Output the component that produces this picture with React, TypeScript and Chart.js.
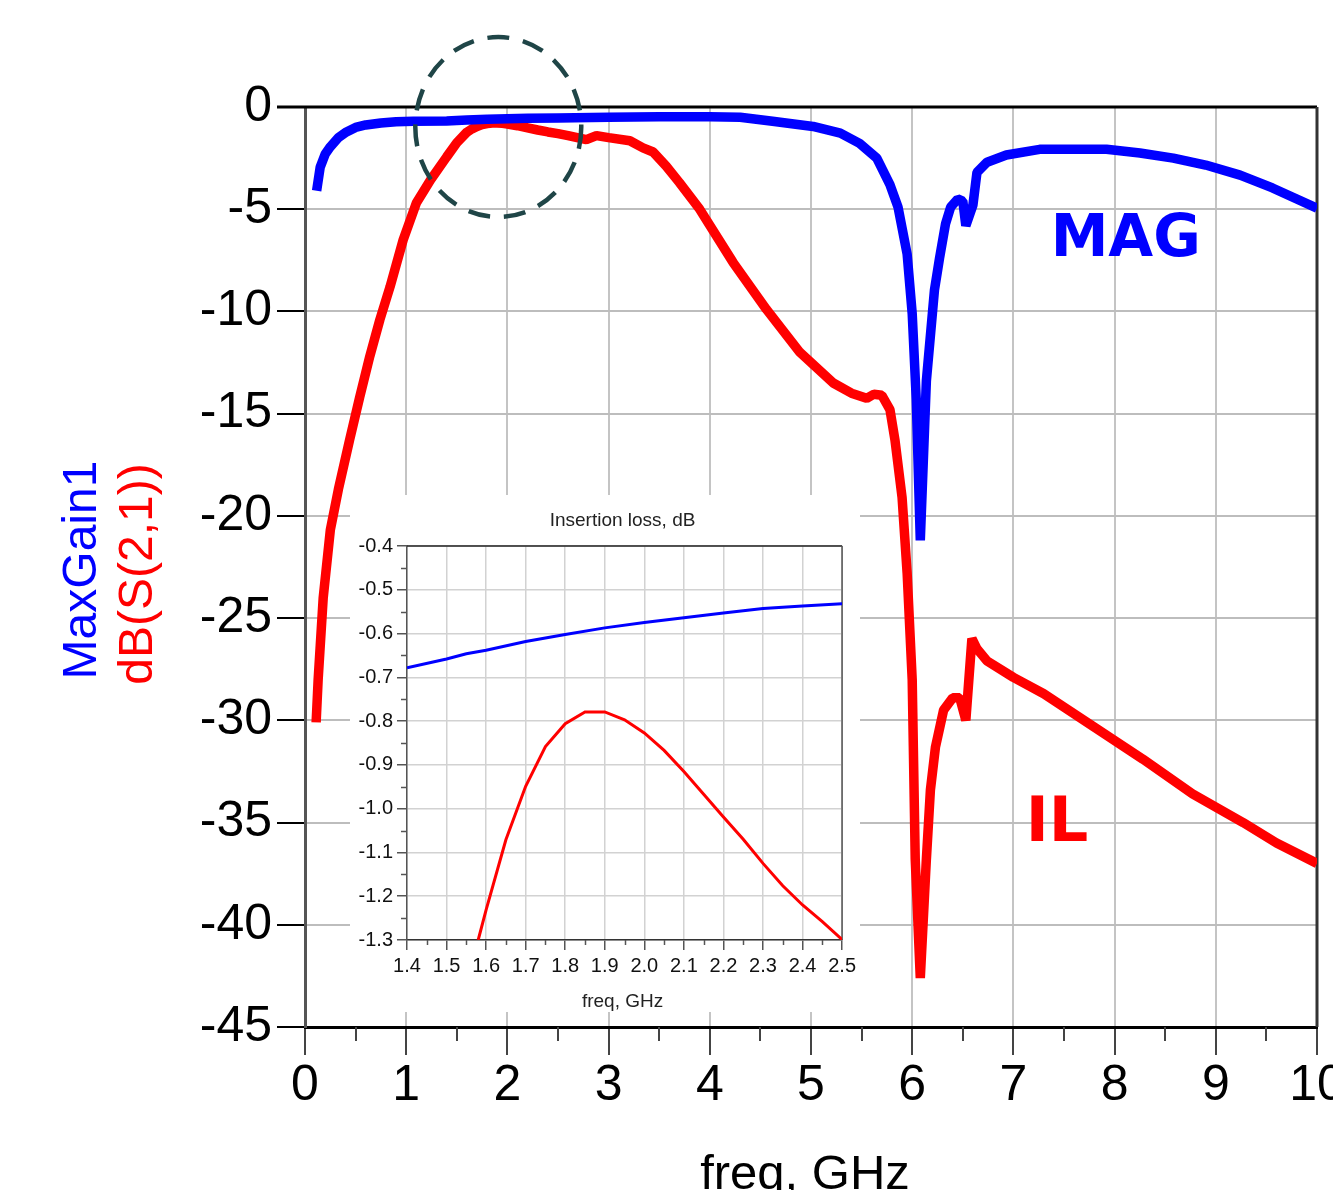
import React, { useEffect, useRef } from 'react';
import { Chart, registerables } from 'chart.js';

Chart.register(...registerables);

const FONT = '"Liberation Sans", Arial, Helvetica, sans-serif';

// ---------- Main chart data (freq in GHz, values in dB) ----------
const magFreq = [0.115, 0.15, 0.2, 0.25, 0.33, 0.41, 0.5, 0.6, 0.75, 0.9, 1.07, 1.4, 1.6, 1.8, 2.0, 2.2, 2.5, 3.0, 3.5, 4.0, 4.3, 4.62, 5.02, 5.29, 5.48, 5.65, 5.78, 5.86, 5.95, 6.0, 6.04, 6.08, 6.14, 6.22, 6.27, 6.33, 6.38, 6.45, 6.5, 6.53, 6.6, 6.64, 6.74, 6.93, 7.26, 7.92, 8.25, 8.58, 8.9, 9.24, 9.56, 10.0];
const magDb = [-4.1, -2.95, -2.3, -1.95, -1.5, -1.22, -1.0, -0.88, -0.78, -0.72, -0.7, -0.68, -0.64, -0.6, -0.575, -0.553, -0.532, -0.5, -0.48, -0.48, -0.5, -0.7, -0.95, -1.28, -1.78, -2.5, -3.8, -4.9, -7.2, -10.1, -14.3, -21.2, -13.4, -8.95, -7.4, -5.7, -4.9, -4.5, -4.6, -5.8, -4.8, -3.2, -2.7, -2.35, -2.07, -2.07, -2.25, -2.5, -2.84, -3.33, -3.96, -4.95];

const ilFreq = [0.11, 0.13, 0.18, 0.25, 0.33, 0.44, 0.54, 0.64, 0.74, 0.84, 0.97, 1.1, 1.24, 1.4, 1.5, 1.6, 1.65, 1.7, 1.75, 1.8, 1.85, 1.9, 1.95, 2.0, 2.1, 2.2, 2.3, 2.4, 2.5, 2.6, 2.78, 2.88, 3.0, 3.21, 3.34, 3.44, 3.57, 3.7, 3.9, 4.23, 4.56, 4.89, 5.22, 5.4, 5.55, 5.62, 5.7, 5.78, 5.83, 5.9, 5.95, 6.0, 6.03, 6.08, 6.14, 6.18, 6.23, 6.31, 6.4, 6.47, 6.53, 6.59, 6.64, 6.74, 7.0, 7.3, 7.79, 8.28, 8.77, 9.27, 9.6, 10.0];
const ilDb = [-30.1, -28, -24, -20.7, -18.7, -16.3, -14.2, -12.2, -10.4, -8.8, -6.5, -4.7, -3.57, -2.44, -1.75, -1.23, -1.07, -0.95, -0.86, -0.81, -0.78, -0.78, -0.8, -0.83, -0.915, -1.02, -1.125, -1.22, -1.3, -1.4, -1.6, -1.4, -1.5, -1.65, -2.0, -2.2, -2.9, -3.7, -5.0, -7.6, -9.9, -12.0, -13.5, -14.0, -14.25, -14.05, -14.1, -14.8, -16.3, -19.1, -22.8, -28, -36.8, -42.6, -36.8, -33.4, -31.3, -29.5, -28.9, -28.9, -30.0, -26.0, -26.5, -27.1, -27.9, -28.7, -30.3, -31.9, -33.6, -35.0, -36.0, -37.0];

const mainXTicks = [0, 1, 2, 3, 4, 5, 6, 7, 8, 9, 10];
const mainXMinor = [0.5, 1.5, 2.5, 3.5, 4.5, 5.5, 6.5, 7.5, 8.5, 9.5];
const mainYTicks = [0, -5, -10, -15, -20, -25, -30, -35, -40, -45];

// ---------- Inset data ----------
const insetMagFreq = [1.4, 1.5, 1.55, 1.6, 1.7, 1.8, 1.9, 2.0, 2.1, 2.2, 2.3, 2.4, 2.5];
const insetMagDb = [-0.678, -0.658, -0.646, -0.638, -0.618, -0.602, -0.587, -0.575, -0.564, -0.553, -0.543, -0.537, -0.532];
const insetIlFreq = [1.58, 1.6, 1.65, 1.7, 1.75, 1.8, 1.85, 1.9, 1.95, 2.0, 2.05, 2.1, 2.15, 2.2, 2.25, 2.3, 2.35, 2.4, 2.45, 2.5];
const insetIlDb = [-1.3, -1.231, -1.071, -0.949, -0.858, -0.806, -0.779, -0.779, -0.797, -0.827, -0.867, -0.915, -0.967, -1.019, -1.07, -1.125, -1.176, -1.22, -1.258, -1.299];

const insetXTicks = [1.4, 1.5, 1.6, 1.7, 1.8, 1.9, 2.0, 2.1, 2.2, 2.3, 2.4, 2.5];
const insetXMinor = [1.45, 1.55, 1.65, 1.75, 1.85, 1.95, 2.05, 2.15, 2.25, 2.35, 2.45];
const insetYTicks = [-0.4, -0.5, -0.6, -0.7, -0.8, -0.9, -1.0, -1.1, -1.2, -1.3];
const insetYMinor = [-0.45, -0.55, -0.65, -0.75, -0.85, -0.95, -1.05, -1.15, -1.25];

// annotations (data coordinates)
const magLabel = { text: 'MAG', x: 8.11, y: -6.55 };
const ilLabel = { text: 'IL', x: 7.43, y: -35.1 };
const zoomEllipse = { cx: 1.91, cy: -0.98, rx: 0.82, ry: 4.4 };

const toPts = (xs: number[], ys: number[]) => xs.map((x, i) => ({ x, y: ys[i] }));

const mainDecor = {
  id: 'mainDecor',
  beforeDatasetsDraw(chart: any) {
    const { ctx, chartArea: a, scales } = chart;
    const x = scales.x;
    ctx.save();
    ctx.strokeStyle = '#444';
    ctx.lineWidth = 2;
    for (const f of mainXMinor) {
      const px = Math.round(x.getPixelForValue(f));
      ctx.beginPath();
      ctx.moveTo(px, a.bottom);
      ctx.lineTo(px, a.bottom + 14);
      ctx.stroke();
    }
    ctx.strokeStyle = '#000';
    ctx.lineWidth = 3;
    ctx.beginPath();
    ctx.moveTo(a.left - 28, a.top);
    ctx.lineTo(a.right, a.top);
    ctx.stroke();
    ctx.strokeStyle = '#333';
    ctx.beginPath();
    ctx.moveTo(a.right, a.top);
    ctx.lineTo(a.right, a.bottom);
    ctx.stroke();
    ctx.restore();
  },
  afterDatasetsDraw(chart: any) {
    const { ctx, scales } = chart;
    const x = scales.x;
    const y = scales.y;
    ctx.save();
    // dashed ellipse
    const cx = x.getPixelForValue(zoomEllipse.cx);
    const cy = y.getPixelForValue(zoomEllipse.cy);
    const rx = x.getPixelForValue(zoomEllipse.cx + zoomEllipse.rx) - cx;
    const ry = y.getPixelForValue(zoomEllipse.cy - zoomEllipse.ry) - cy;
    ctx.strokeStyle = '#1f4547';
    ctx.lineWidth = 4.5;
    ctx.setLineDash([22, 14]);
    ctx.beginPath();
    ctx.ellipse(cx, cy, rx, ry, 0, 0, Math.PI * 2);
    ctx.stroke();
    ctx.setLineDash([]);
    // labels
    ctx.textAlign = 'center';
    ctx.textBaseline = 'middle';
    ctx.font = 'bold 58px "DejaVu Sans", Verdana, sans-serif';
    ctx.fillStyle = '#0000ff';
    ctx.fillText(magLabel.text, x.getPixelForValue(magLabel.x), y.getPixelForValue(magLabel.y));
    ctx.font = 'bold 62px "DejaVu Sans", Verdana, sans-serif';
    ctx.fillStyle = '#ff0000';
    ctx.fillText(ilLabel.text, x.getPixelForValue(ilLabel.x), y.getPixelForValue(ilLabel.y));
    ctx.restore();
  },
  afterDraw(chart: any) {
    const { ctx, chartArea: a } = chart;
    ctx.save();
    // x title
    ctx.font = `49px ${FONT}`;
    ctx.fillStyle = '#000';
    ctx.textAlign = 'center';
    ctx.textBaseline = 'alphabetic';
    ctx.fillText('freq, GHz', (a.left + a.right) / 2 - 6, 1189);
    // y title (two colours)
    const midY = (a.top + a.bottom) / 2 + 3;
    ctx.font = `48px ${FONT}`;
    ctx.textBaseline = 'middle';
    ctx.save();
    ctx.translate(a.left - 222, midY);
    ctx.rotate(-Math.PI / 2);
    ctx.fillStyle = '#0000ff';
    ctx.fillText('MaxGain1', 0, 0);
    ctx.restore();
    ctx.save();
    ctx.translate(a.left - 166, midY + 4);
    ctx.rotate(-Math.PI / 2);
    ctx.fillStyle = '#ff0000';
    ctx.fillText('dB(S(2,1))', 0, 0);
    ctx.restore();
    ctx.restore();
  },
};

const insetDecor = {
  id: 'insetDecor',
  beforeDraw(chart: any) {
    const { ctx, width, height } = chart;
    ctx.save();
    ctx.fillStyle = '#ffffff';
    ctx.fillRect(0, 0, width, height);
    ctx.restore();
  },
  beforeDatasetsDraw(chart: any) {
    const { ctx, chartArea: a, scales } = chart;
    ctx.save();
    ctx.strokeStyle = '#555';
    ctx.lineWidth = 1.5;
    for (const f of insetXMinor) {
      const px = Math.round(scales.x.getPixelForValue(f)) + 0.5;
      ctx.beginPath();
      ctx.moveTo(px, a.bottom);
      ctx.lineTo(px, a.bottom + 5);
      ctx.stroke();
    }
    for (const v of insetYMinor) {
      const py = Math.round(scales.y.getPixelForValue(v)) + 0.5;
      ctx.beginPath();
      ctx.moveTo(a.left - 6, py);
      ctx.lineTo(a.left, py);
      ctx.stroke();
    }
    ctx.strokeStyle = '#222';
    ctx.lineWidth = 1.5;
    ctx.beginPath();
    ctx.moveTo(a.left, a.top);
    ctx.lineTo(a.right, a.top);
    ctx.stroke();
    ctx.strokeStyle = '#555';
    ctx.beginPath();
    ctx.moveTo(a.right, a.top);
    ctx.lineTo(a.right, a.bottom);
    ctx.stroke();
    ctx.restore();
  },
  afterDraw(chart: any) {
    const { ctx, chartArea: a } = chart;
    ctx.save();
    ctx.font = `19px ${FONT}`;
    ctx.fillStyle = '#222';
    ctx.textAlign = 'center';
    ctx.textBaseline = 'middle';
    const cx = (a.left + a.right) / 2 - 2;
    ctx.fillText('Insertion loss, dB', cx, 26);
    ctx.fillText('freq, GHz', cx, 507);
    ctx.restore();
  },
};

export default function App() {
  const mainRef = useRef<HTMLCanvasElement | null>(null);
  const insetRef = useRef<HTMLCanvasElement | null>(null);

  useEffect(() => {
    if (!mainRef.current || !insetRef.current) return;

    const main = new Chart(mainRef.current, {
      type: 'line',
      data: {
        datasets: [
          {
            label: 'MaxGain1',
            data: toPts(magFreq, magDb),
            borderColor: '#0000ff',
            borderWidth: 9.5,
            pointRadius: 0,
            tension: 0,
            borderJoinStyle: 'bevel',
            borderCapStyle: 'butt',
          },
          {
            label: 'dB(S(2,1))',
            data: toPts(ilFreq, ilDb),
            borderColor: '#ff0000',
            borderWidth: 9.5,
            pointRadius: 0,
            tension: 0,
            borderJoinStyle: 'bevel',
            borderCapStyle: 'butt',
          },
        ],
      },
      options: {
        responsive: false,
        animation: false,
        events: [],
        layout: { padding: { top: 107, right: 83, left: 0, bottom: 0 } },
        plugins: { legend: { display: false }, tooltip: { enabled: false }, title: { display: false } },
        scales: {
          x: {
            type: 'linear',
            min: 0,
            max: 10,
            afterBuildTicks: (axis: any) => {
              axis.ticks = mainXTicks.map((v) => ({ value: v }));
            },
            afterFit: (s: any) => {
              s.height = 163;
            },
            ticks: {
              autoSkip: false,
              maxRotation: 0,
              padding: 1,
              color: '#000',
              font: { family: FONT, size: 50 },
              callback: (v: any) => String(v),
            },
            grid: { color: '#c4c4c4', lineWidth: 2, tickLength: 28, tickColor: '#444', tickWidth: 2 },
            border: { color: '#000', width: 3 },
          },
          y: {
            type: 'linear',
            min: -45,
            max: 0,
            afterBuildTicks: (axis: any) => {
              axis.ticks = mainYTicks.map((v) => ({ value: v }));
            },
            afterFit: (s: any) => {
              s.width = 305;
            },
            ticks: {
              autoSkip: false,
              padding: 5,
              color: '#000',
              font: { family: FONT, size: 50 },
              callback: (v: any) => String(v),
            },
            grid: { color: '#bdbdbd', lineWidth: 2, tickLength: 28, tickColor: '#000', tickWidth: 2 },
            border: { color: '#555', width: 3 },
          },
        },
      },
      plugins: [mainDecor],
    } as any);

    const inset = new Chart(insetRef.current, {
      type: 'line',
      data: {
        datasets: [
          {
            label: 'MaxGain1',
            data: toPts(insetMagFreq, insetMagDb),
            borderColor: '#0000ff',
            borderWidth: 3,
            pointRadius: 0,
            tension: 0,
          },
          {
            label: 'dB(S(2,1))',
            data: toPts(insetIlFreq, insetIlDb),
            borderColor: '#ff0000',
            borderWidth: 3,
            pointRadius: 0,
            tension: 0,
          },
        ],
      },
      options: {
        responsive: false,
        animation: false,
        events: [],
        layout: { padding: { top: 51, right: 17, left: 0, bottom: 0 } },
        plugins: { legend: { display: false }, tooltip: { enabled: false }, title: { display: false } },
        scales: {
          x: {
            type: 'linear',
            min: 1.4,
            max: 2.5,
            afterBuildTicks: (axis: any) => {
              axis.ticks = insetXTicks.map((v) => ({ value: v }));
            },
            afterFit: (s: any) => {
              s.height = 72;
            },
            ticks: {
              autoSkip: false,
              maxRotation: 0,
              padding: 4,
              color: '#111',
              font: { family: FONT, size: 20 },
              callback: (v: any) => Number(v).toFixed(1),
            },
            grid: { color: '#d2d2d2', lineWidth: 1.5, tickLength: 10, tickColor: '#555', tickWidth: 1.5 },
            border: { color: '#333', width: 1.5 },
          },
          y: {
            type: 'linear',
            min: -1.3,
            max: -0.4,
            afterBuildTicks: (axis: any) => {
              axis.ticks = insetYTicks.map((v) => ({ value: v }));
            },
            afterFit: (s: any) => {
              s.width = 57;
            },
            ticks: {
              autoSkip: false,
              padding: 4,
              color: '#111',
              font: { family: FONT, size: 20 },
              callback: (v: any) => Number(v).toFixed(1),
            },
            grid: { color: '#d2d2d2', lineWidth: 1.5, tickLength: 10, tickColor: '#555', tickWidth: 1.5 },
            border: { color: '#555', width: 1.5 },
          },
        },
      },
      plugins: [insetDecor],
    } as any);

    return () => {
      main.destroy();
      inset.destroy();
    };
  }, []);

  return (
    <div
      style={{
        position: 'fixed',
        left: 0,
        top: 0,
        width: 1333,
        height: 1190,
        overflow: 'hidden',
        background: '#ffffff',
      }}
    >
      <canvas ref={mainRef} width={1400} height={1190} style={{ position: 'absolute', left: 0, top: 0 }} />
      <canvas ref={insetRef} width={510} height={517} style={{ position: 'absolute', left: 350, top: 495 }} />
    </div>
  );
}
